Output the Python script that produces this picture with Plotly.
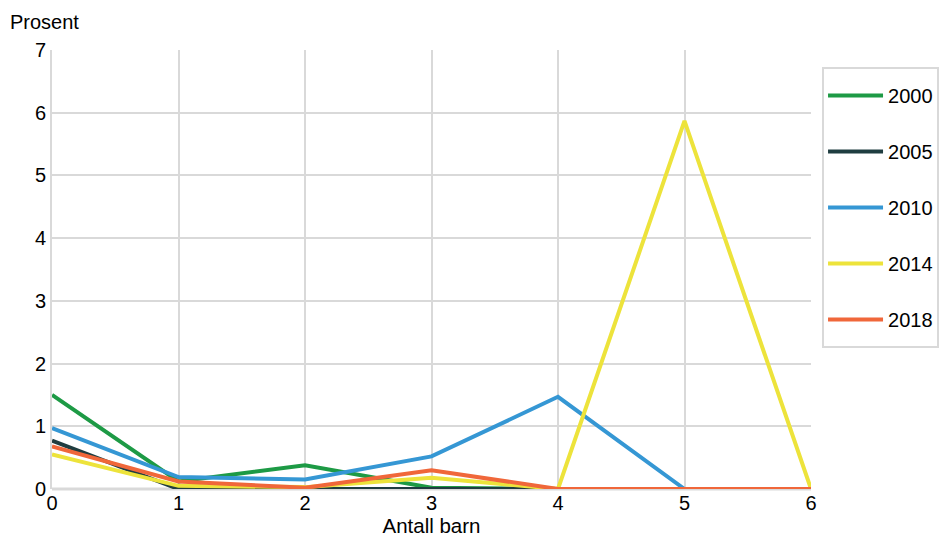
import plotly.graph_objects as go

x_vals = [0, 1, 2, 3, 4, 5, 6]
y2000 = [1.5, 0.12, 0.38, 0.02, 0, 0, 0]
y2005 = [0.77, 0, 0, 0, 0, 0, 0]
y2010 = [0.97, 0.19, 0.15, 0.52, 1.47, 0, 0]
y2014 = [0.55, 0.05, 0.03, 0.18, 0, 5.87, 0]
y2018 = [0.68, 0.12, 0.02, 0.3, 0, 0, 0]

series = [
    ("2000", y2000, "#1d9a45"),
    ("2005", y2005, "#1f3d40"),
    ("2010", y2010, "#3597d4"),
    ("2014", y2014, "#ede33b"),
    ("2018", y2018, "#f0673a"),
]

fig = go.Figure()
for name, ys, col in series:
    fig.add_trace(go.Scatter(x=x_vals, y=ys, mode="lines", name=name,
                             legendgroup=name,
                             line=dict(color=col, width=4)))

font = dict(family="Liberation Sans, Arial, sans-serif", size=20, color="#000")
fig.update_layout(
    width=939, height=540,
    margin=dict(l=52, r=128, t=50, b=51),
    paper_bgcolor="white", plot_bgcolor="white",
    font=font,
    showlegend=True,
    legend=dict(xref="container", yref="container", x=0.8765, y=0.8593,
                xanchor="left", yanchor="top",
                bgcolor="rgba(0,0,0,0)", borderwidth=0,
                traceorder="grouped", tracegroupgap=27,
                itemwidth=55,
                font=dict(family="Liberation Sans, Arial, sans-serif", size=20)),
    xaxis=dict(range=[0, 6], tickvals=x_vals, showgrid=True, gridcolor="#d9d9d9",
               gridwidth=2, zeroline=False, showline=False, ticks="",
               automargin=False,
               title=dict(text="Antall barn", standoff=3,
                          font=dict(family="Liberation Sans, Arial, sans-serif",
                                    size=20.5, color="#000")),
               tickfont=font),
    yaxis=dict(range=[0, 7], dtick=1, showgrid=True, gridcolor="#d9d9d9", gridwidth=2,
               zeroline=False, showline=True, linecolor="#d9d9d9", linewidth=2,
               automargin=False,
               ticks="", tickfont=font),
    annotations=[dict(text="Prosent", xref="paper", yref="paper", x=-0.058, y=1.064,
                      xanchor="left", yanchor="middle", showarrow=False, font=font)],
)
fig.add_shape(type="line", xref="paper", yref="paper", x0=0, x1=1, y0=0, y1=0,
              line=dict(color="#d9d9d9", width=3), layer="below")
fig.add_shape(type="rect", xref="paper", yref="paper", x0=1.0158, x1=1.1673,
              y0=0.3235, y1=0.959, line=dict(color="#d9d9d9", width=2),
              fillcolor="rgba(0,0,0,0)")
fig.write_html("out.html", config={"displayModeBar": False},
               post_script="document.body.style.margin='0';")
